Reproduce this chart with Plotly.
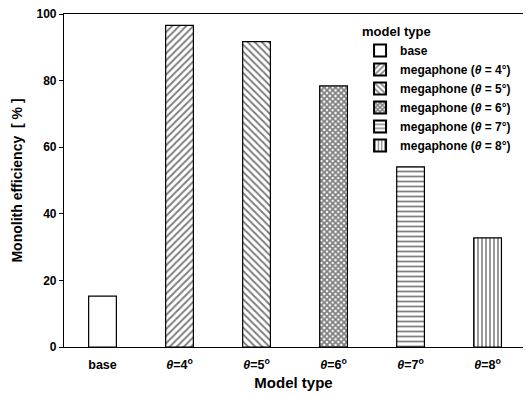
import plotly.graph_objects as go

categories = ["base", "<i>θ</i>=4<sup>o</sup>", "<i>θ</i>=5<sup>o</sup>", "<i>θ</i>=6<sup>o</sup>",
              "<i>θ</i>=7<sup>o</sup>", "<i>θ</i>=8<sup>o</sup>"]
values = [15.3, 96.6, 91.7, 78.4, 54.1, 32.8]
legend_names = ["base", "megaphone (<i>θ</i> = 4°)", "megaphone (<i>θ</i> = 5°)",
                "megaphone (<i>θ</i> = 6°)", "megaphone (<i>θ</i> = 7°)", "megaphone (<i>θ</i> = 8°)"]
patterns = ["", "/", "\\", "x", "-", "|"]
pattern_sizes = [6, 5, 5, 4, 5, 4]
pattern_solidity = [0.3, 0.4, 0.4, 0.7, 0.35, 0.4]
y_ticks = [0, 20, 40, 60, 80, 100]

FONT = "Liberation Sans, Arial, sans-serif"

fig = go.Figure()
for cat, val, name, pat, ps, sol in zip(categories, values, legend_names, patterns,
                                        pattern_sizes, pattern_solidity):
    fig.add_trace(go.Bar(
        x=[cat], y=[val], name="<b>" + name + "</b>", width=0.36,
        marker=dict(color="white", line=dict(color="black", width=1.2),
                    pattern=dict(shape=pat, fgcolor="black", bgcolor="white",
                                 size=ps, solidity=sol, fillmode="overlay")),
    ))

fig.update_layout(
    width=526, height=397,
    margin=dict(l=64, r=3, t=14, b=50),
    paper_bgcolor="white", plot_bgcolor="white",
    barmode="overlay",
    font=dict(family=FONT, color="black", size=12),
    showlegend=True,
    legend=dict(
        title=dict(text="<b>model type</b>", font=dict(size=13, family=FONT)),
        font=dict(size=12, family=FONT),
        x=0.645, y=0.985, xanchor="left", yanchor="top",
        bgcolor="rgba(0,0,0,0)", tracegroupgap=0, itemsizing="constant",
    ),
    xaxis=dict(
        categoryorder="array", categoryarray=categories,
        range=[-0.5, 5.46],
        showline=True, linecolor="black", linewidth=1.2, mirror=True,
        ticks="", tickfont=dict(size=12.5, family=FONT),
        tickvals=categories, ticktext=["<b>" + c + "</b>" for c in categories],
        ticklabelstandoff=6,
        title=dict(text="<b>Model type</b>", font=dict(size=15, family=FONT), standoff=6),
        showgrid=False, zeroline=False,
    ),
    yaxis=dict(
        range=[0, 100], tickvals=y_ticks, ticktext=["<b>%d</b>" % v for v in y_ticks],
        showline=True, linecolor="black", linewidth=1.2,
        ticks="outside", ticklen=4, tickcolor="black",
        tickfont=dict(size=12, family=FONT),
        title=dict(text="<b>Monolith efficiency  [ % ]</b>", font=dict(size=14, family=FONT), standoff=10),
        showgrid=False, zeroline=False,
    ),
)

fig.write_html("out.html")
